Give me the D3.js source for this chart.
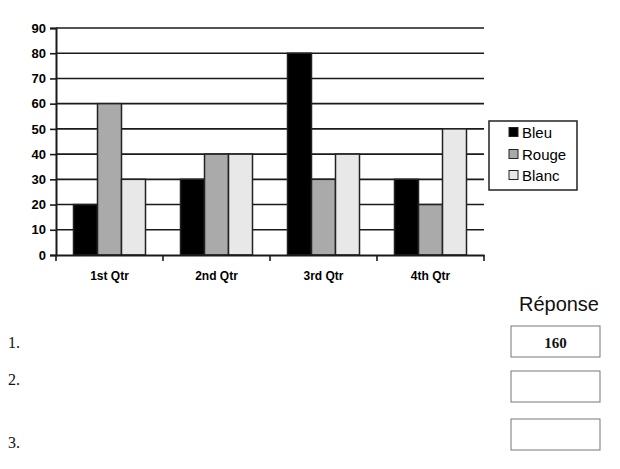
<!DOCTYPE html>
<html lang="fr">
<head>
    <meta charset="utf-8">
    <title>Bleu Rouge Blanc</title>
    <script type="text/javascript" src="https://cdn.jsdelivr.net/npm/d3@7"></script>
    <style type="text/css">
        body { margin: 0; background: #fff; }
        svg { display: block; }
        .axis text { font-family: "Liberation Sans", Arial, sans-serif; font-weight: bold; fill: #000; }
    </style>
</head>
<body>
    <script type="text/javascript">
        // Chart data
        var categories = ["1st Qtr", "2nd Qtr", "3rd Qtr", "4th Qtr"];
        var seriesNames = ["Bleu", "Rouge", "Blanc"];
        var bleu = [20, 30, 80, 30];
        var rouge = [60, 40, 30, 20];
        var blanc = [30, 40, 40, 50];
        var yTicks = [0, 10, 20, 30, 40, 50, 60, 70, 80, 90];

        // Answer sheet below the chart
        var questions = ["1.", "2.", "3."];
        var answers = ["160", "", ""];

        var w = 620;
        var h = 469;
        // plot box (note: "top" is a reserved window global, so use other names)
        var plotLeft = 56, plotRight = 484, plotTop = 28, plotBottom = 255;

        var svg = d3.select("body")
            .append("svg")
            .attr("width", w)
            .attr("height", h);

        var y = d3.scaleLinear()
            .domain([0, 90])
            .range([plotBottom, plotTop]);

        var x0 = d3.scaleBand()
            .domain(categories)
            .range([plotLeft, plotRight]);

        var x1 = d3.scaleBand()
            .domain(seriesNames)
            .range([17.5, x0.bandwidth() - 17.5]);

        var color = d3.scaleOrdinal()
            .domain(seriesNames)
            .range(["#000000", "#aaaaaa", "#e8e8e8"]);

        // Gridlines
        svg.append("g")
            .selectAll("line")
            .data(yTicks.slice(1))
            .enter()
            .append("line")
            .attr("x1", plotLeft)
            .attr("x2", plotRight)
            .attr("y1", function(d) { return y(d); })
            .attr("y2", function(d) { return y(d); })
            .style("stroke", "#1a1a1a")
            .style("stroke-width", 1.6);

        // Bars
        var rows = categories.map(function(c, i) {
            return { cat: c, values: [bleu[i], rouge[i], blanc[i]] };
        });

        var groups = svg.append("g")
            .selectAll("g")
            .data(rows)
            .enter()
            .append("g")
            .attr("transform", function(d) { return "translate(" + x0(d.cat) + ",0)"; });

        groups.selectAll("rect")
            .data(function(d) {
                return d.values.map(function(v, j) { return { name: seriesNames[j], value: v }; });
            })
            .enter()
            .append("rect")
            .attr("x", function(d) { return x1(d.name); })
            .attr("width", x1.bandwidth())
            .attr("y", function(d) { return y(d.value); })
            .attr("height", function(d) { return y(0) - y(d.value); })
            .style("fill", function(d) { return color(d.name); })
            .style("stroke", "#222")
            .style("stroke-width", 1.5);

        // Y axis
        var yAxis = svg.append("g")
            .attr("class", "axis")
            .attr("transform", "translate(" + plotLeft + ",0)")
            .call(d3.axisLeft(y).tickValues(yTicks).tickSize(6).tickPadding(4));
        yAxis.selectAll("text").style("font-size", "13px");
        yAxis.selectAll("line").style("stroke", "#1a1a1a").style("stroke-width", 1.6);
        yAxis.select(".domain").style("stroke", "#1a1a1a").style("stroke-width", 2);

        // X axis
        var xAxis = svg.append("g")
            .attr("class", "axis")
            .attr("transform", "translate(0," + plotBottom + ")")
            .call(d3.axisBottom(x0).tickSize(0).tickPadding(16));
        xAxis.selectAll("text").style("font-size", "12px");
        xAxis.select(".domain").style("stroke", "#1a1a1a").style("stroke-width", 2);

        // Category separator ticks
        xAxis.selectAll(".sep")
            .data(categories.concat(["end"]))
            .enter()
            .append("line")
            .attr("class", "sep")
            .attr("x1", function(d, i) { return i < categories.length ? x0(d) : plotRight; })
            .attr("x2", function(d, i) { return i < categories.length ? x0(d) : plotRight; })
            .attr("y1", 0)
            .attr("y2", 6)
            .style("stroke", "#1a1a1a")
            .style("stroke-width", 1.6);

        // Legend
        var legend = svg.append("g").attr("transform", "translate(489,121)");
        legend.append("rect")
            .attr("width", 88)
            .attr("height", 69)
            .style("fill", "#fff")
            .style("stroke", "#222")
            .style("stroke-width", 1.5);

        var legendY = [11, 33, 54];
        var items = legend.selectAll(".item")
            .data(seriesNames)
            .enter()
            .append("g")
            .attr("class", "item")
            .attr("transform", function(d, i) { return "translate(20," + legendY[i] + ")"; });
        items.append("rect")
            .attr("x", 0)
            .attr("y", -4.5)
            .attr("width", 9)
            .attr("height", 9)
            .style("fill", function(d) { return color(d); })
            .style("stroke", "#222")
            .style("stroke-width", 1);
        items.append("text")
            .attr("x", 13)
            .attr("y", 5.5)
            .style("font-family", "'Liberation Sans', Arial, sans-serif")
            .style("font-size", "15px")
            .style("fill", "#000")
            .text(function(d) { return d; });

        // Answer sheet
        svg.append("text")
            .attr("x", 599)
            .attr("y", 311)
            .attr("text-anchor", "end")
            .style("font-family", "'Liberation Sans', Arial, sans-serif")
            .style("font-size", "20px")
            .style("fill", "#111")
            .text("Réponse");

        var boxTop = [326, 371, 419];
        var labelBase = [348, 385, 448];

        svg.append("g")
            .selectAll("text")
            .data(questions)
            .enter()
            .append("text")
            .attr("x", 8)
            .attr("y", function(d, i) { return labelBase[i]; })
            .style("font-family", "'Liberation Serif', 'Times New Roman', serif")
            .style("font-size", "16px")
            .style("fill", "#111")
            .text(function(d) { return d; });

        var boxes = svg.append("g")
            .selectAll("g")
            .data(answers)
            .enter()
            .append("g")
            .attr("transform", function(d, i) { return "translate(511," + boxTop[i] + ")"; });
        boxes.append("rect")
            .attr("width", 89)
            .attr("height", 31)
            .style("fill", "#fff")
            .style("stroke", "#777")
            .style("stroke-width", 1);
        boxes.append("text")
            .attr("x", 44.5)
            .attr("y", 22)
            .attr("text-anchor", "middle")
            .style("font-family", "'Liberation Serif', 'Times New Roman', serif")
            .style("font-weight", "bold")
            .style("font-size", "15px")
            .style("fill", "#111")
            .text(function(d) { return d; });
    </script>
</body>
</html>
